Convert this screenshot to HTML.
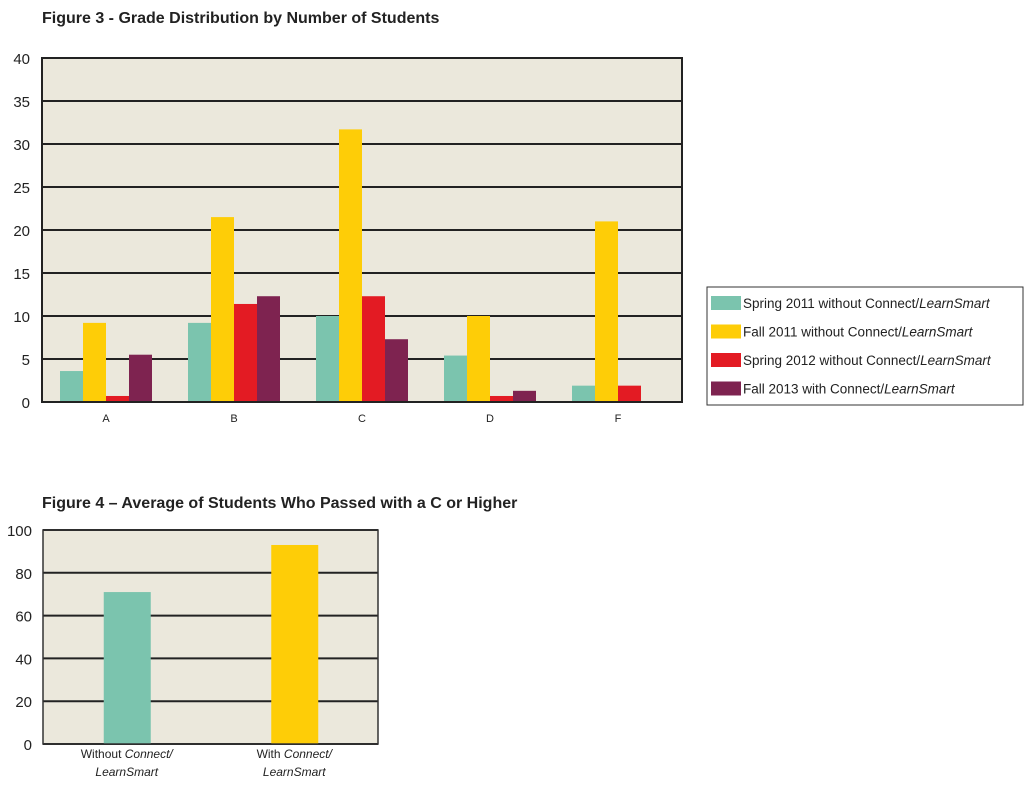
<!DOCTYPE html>
<html><head><meta charset="utf-8"><style>
body{margin:0;background:#fff;font-family:"Liberation Sans",sans-serif;}
svg text{font-family:"Liberation Sans",sans-serif;fill:#222;}
</style></head><body>
<svg width="1033" height="783" viewBox="0 0 1033 783">
<text x="42" y="23" font-size="16" font-weight="bold">Figure 3 - Grade Distribution by Number of Students</text>
<g id="f3"></g>
<g>
<rect x="707" y="287" width="316" height="118" fill="#fff" stroke="#333" stroke-width="1"/>
<g id="leg"></g>
</g>
<text x="42" y="508" font-size="16" font-weight="bold">Figure 4 – Average of Students Who Passed with a C or Higher</text>
<g id="f4"></g>
</svg>
<script>
const categories=["A","B","C","D","F"];
const spring2011=[3.6,9.2,10,5.4,1.9];
const fall2011=[9.2,21.5,31.7,10,21];
const spring2012=[0.7,11.4,12.3,0.7,1.9];
const fall2013=[5.5,12.3,7.3,1.3,0];
const seriesNames=["Spring 2011 without Connect/","Fall 2011 without Connect/","Spring 2012 without Connect/","Fall 2013 with Connect/"];
const yTicks3=[0,5,10,15,20,25,30,35,40];
const cats4=[["Without ","Connect/"],["With ","Connect/"]];
const passRates=[71,93];
const yTicks4=[0,20,40,60,80,100];
const colors=["#7bc4ae","#fecd07","#e31b23","#7e2350"];
const NS="http://www.w3.org/2000/svg";
function mk(p,t,a){const e=document.createElementNS(NS,t);for(const k in a)e.setAttribute(k,a[k]);p.appendChild(e);return e;}
// Figure 3
const f3=document.getElementById('f3');
const L=42,R=682,T=58,B=402;
const y3=v=>B-(v/40)*(B-T);
const x3=i=>L+(i+0.5)*(R-L)/categories.length;
let bg=mk(f3,'rect',{x:L,y:T,width:R-L,height:B-T,fill:'#ebe8dc'});


yTicks3.forEach(v=>{
 const g=mk(f3,'line',{x1:L,x2:R,y1:y3(v),y2:y3(v),stroke:'#222','stroke-width':2});
 
 
 const t=mk(f3,'text',{x:30,y:y3(v)+6,'font-size':15,'text-anchor':'end'});t.textContent=v;
 
 
});
const series=[spring2011,fall2011,spring2012,fall2013];
const bw=23;
categories.forEach((c,i)=>{
 series.forEach((s,j)=>{
  if(s[i]<=0)return;
  const r=mk(f3,'rect',{x:x3(i)-2*bw+j*bw,y:y3(s[i]),width:bw,height:B-y3(s[i]),fill:colors[j]});
  
  
 });
 const t=mk(f3,'text',{x:x3(i),y:422,'font-size':11,'text-anchor':'middle'});t.textContent=c;
 
 
});
let fr=mk(f3,'rect',{x:L,y:T,width:R-L,height:B-T,fill:'none',stroke:'#222','stroke-width':2});


// legend
const leg=document.getElementById('leg');
seriesNames.forEach((n,j)=>{
 const yy=303+j*28.5;
 const r=mk(leg,'rect',{x:711,y:yy-7,width:30,height:14,fill:colors[j]});
 
 
 const t=mk(leg,'text',{x:743,y:yy+5,'font-size':13.5});
 
 
 t.textContent=n;
 const ts=mk(t,'tspan',{'font-style':'italic'});ts.textContent='LearnSmart';
});
// Figure 4
const f4=document.getElementById('f4');
const L4=43,R4=378,T4=530,B4=744;
const y4=v=>B4-(v/100)*(B4-T4);
const x4=i=>L4+(i+0.5)*(R4-L4)/cats4.length;
bg=mk(f4,'rect',{x:L4,y:T4,width:R4-L4,height:B4-T4,fill:'#ebe8dc'});


yTicks4.forEach(v=>{
 const g=mk(f4,'line',{x1:L4,x2:R4,y1:y4(v),y2:y4(v),stroke:'#222','stroke-width':2});
 
 
 const t=mk(f4,'text',{x:32,y:y4(v)+6,'font-size':15,'text-anchor':'end'});t.textContent=v;
 
 
});
passRates.forEach((v,i)=>{
 const r=mk(f4,'rect',{x:x4(i)-23,y:y4(v),width:47,height:B4-y4(v),fill:colors[i]});
 
 
 const t=mk(f4,'text',{x:x4(i),y:758,'font-size':12,'text-anchor':'middle'});
 
 
 t.textContent=cats4[i][0];
 const ts=mk(t,'tspan',{'font-style':'italic'});ts.textContent=cats4[i][1];
 const t2=mk(f4,'text',{x:x4(i),y:776,'font-size':12,'text-anchor':'middle','font-style':'italic'});t2.textContent='LearnSmart';
 
 
});
fr=mk(f4,'rect',{x:L4,y:T4,width:R4-L4,height:B4-T4,fill:'none',stroke:'#333','stroke-width':1.5});


</script>
</body></html>
